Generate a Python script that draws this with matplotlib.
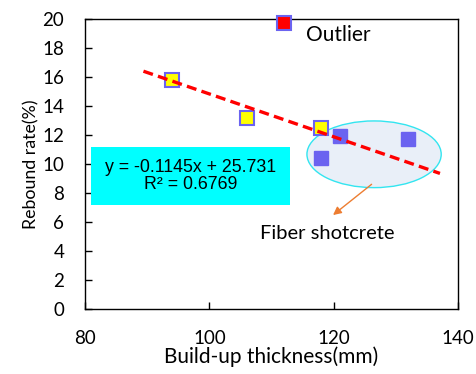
import numpy as np
import matplotlib.pyplot as plt
from matplotlib.patches import Ellipse, Rectangle

plt.rcParams['font.family'] = ['Lato', 'DejaVu Sans']

# data
plain_x = [94, 106, 118]
plain_y = [15.8, 13.2, 12.5]
fiber_x = [121, 118, 132]
fiber_y = [11.9, 10.4, 11.7]
outlier_x = [112]
outlier_y = [19.7]
trend_x = [89.4, 137.1]
trend_y = [16.4, 9.35]

xticks = [80, 100, 120, 140]
yticks = list(range(0, 21, 2))

fig = plt.figure(figsize=(4.76, 3.74), dpi=100)
ax = fig.add_axes([85 / 476, 65 / 374, 373 / 476, 290 / 374])

ax.add_patch(Ellipse((126.5, 10.67), 21.6, 4.6, facecolor='#E9EFF8',
                     edgecolor='#33E5F0', lw=1, zorder=1))

edge = '#6B63F0'
ax.plot(fiber_x, fiber_y, 's', ms=10.5, mfc='#6B63F0', mec=edge, mew=1, zorder=3)
ax.plot(plain_x, plain_y, 's', ms=10, mfc='#FFFF00', mec=edge, mew=1.5, zorder=3)
ax.plot(outlier_x, outlier_y, 's', ms=10, mfc='#FF0000', mec=edge, mew=1.5,
        zorder=3, clip_on=False)
ax.plot(trend_x, trend_y, '--', color='#FF0000', lw=2.4, dashes=(3, 1.6), zorder=4)

ax.add_patch(Rectangle((81.0, 7.17), 31.9, 4.02, facecolor='#00FFFF',
                       edgecolor='none', zorder=2))
ax.text(96.95, 9.18, 'y = -0.1145x + 25.731\nR² = 0.6769', ha='center', va='center',
        fontsize=12.8, family=['Liberation Sans', 'DejaVu Sans'], linespacing=1.0, zorder=5)

ax.annotate('', xy=(119.9, 6.48), xytext=(126.1, 8.6),
            arrowprops=dict(arrowstyle='-|>', color='#ED7D31', lw=1,
                            mutation_scale=12, shrinkA=0, shrinkB=0), zorder=5)
ax.text(118.9, 5.22, 'Fiber shotcrete', ha='center', va='center', fontsize=14.5)
ax.text(115.6, 18.9, 'Outlier', ha='left', va='center', fontsize=15)

ax.set_xlim(80, 140)
ax.set_ylim(0, 20)
ax.set_xticks(xticks)
ax.set_yticks(yticks)
ax.tick_params(direction='in', labelsize=13.5, length=5, width=1)
ax.tick_params(axis='y', pad=15)
ax.tick_params(axis='x', pad=15)
for s in ax.spines.values():
    s.set_linewidth(1)
ax.set_xlabel('Build-up thickness(mm)', fontsize=15, labelpad=0)
ax.set_ylabel('Rebound rate(%)', fontsize=12.8, labelpad=2)

plt.savefig('out.png', dpi=100)
plt.close(fig)
